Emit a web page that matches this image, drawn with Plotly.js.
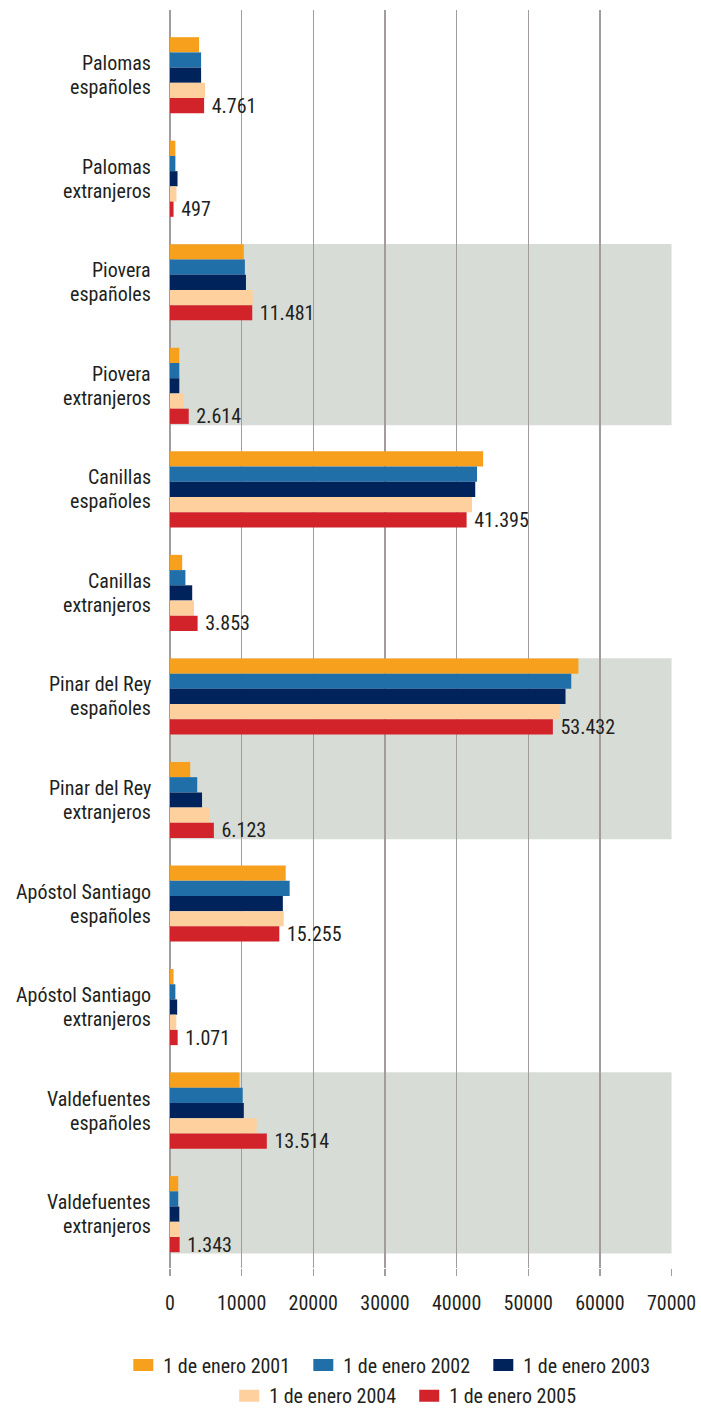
<!DOCTYPE html>
<html>
<head>
<meta charset="utf-8">
<script src="https://cdn.plot.ly/plotly-3.0.1.min.js"></script>
<style>html,body{margin:0;padding:0;background:#fff;}#chart{width:701px;height:1408px;}</style>
</head>
<body>
<div id="chart"></div>
<script>
const categories = [
  "Palomas<br>españoles", "Palomas<br>extranjeros",
  "Piovera<br>españoles", "Piovera<br>extranjeros",
  "Canillas<br>españoles", "Canillas<br>extranjeros",
  "Pinar del Rey<br>españoles", "Pinar del Rey<br>extranjeros",
  "Apóstol Santiago<br>españoles", "Apóstol Santiago<br>extranjeros",
  "Valdefuentes<br>españoles", "Valdefuentes<br>extranjeros"
];
const seriesNames = ["1 de enero 2001", "1 de enero 2002", "1 de enero 2003", "1 de enero 2004", "1 de enero 2005"];
const values2001 = [4060, 750, 10300, 1300, 43700, 1700, 57000, 2820, 16150, 500, 9700, 1150];
const values2002 = [4340, 750, 10450, 1300, 42850, 2150, 56000, 3800, 16700, 750, 10150, 1150];
const values2003 = [4340, 1050, 10600, 1300, 42600, 3100, 55200, 4470, 15750, 1000, 10300, 1300];
const values2004 = [4900, 900, 11550, 1900, 42150, 3350, 54400, 5510, 15870, 880, 12100, 1320];
const values2005 = [4761, 497, 11481, 2614, 41395, 3853, 53432, 6123, 15255, 1071, 13514, 1343];
const colors = ["#f7a01e", "#206fa8", "#00235b", "#fdd09e", "#d2232a"];
const xTicks = [0, 10000, 20000, 30000, 40000, 50000, 60000, 70000];
const shadedPairs = [[2, 3], [6, 7], [10, 11]];

const FONT = "'Roboto Condensed', 'Liberation Sans Narrow', sans-serif";
const TXT = "#231f20";
const GRID = "#a39c9c";
const W = 450;

function fmt(v) { return String(v).replace(/\B(?=(\d{3})+(?!\d))/g, "."); }

const allValues = [values2001, values2002, values2003, values2004, values2005];
const traces = allValues.map((vals, i) => {
  const t = {
    type: "bar", orientation: "h",
    name: seriesNames[i], x: vals, y: categories,
    marker: {color: colors[i]},
    legend: i < 3 ? "legend" : "legend2",
    hoverinfo: "x+name"
  };
  if (i === 4) {
    t.text = vals.map(v => "\u00A0" + fmt(v));
    t.textposition = "outside";
    t.cliponaxis = false;
    t.constraintext = "none";
    t.textfont = {family: FONT, size: 20, color: TXT, weight: W};
  }
  return t;
});

const shapes = shadedPairs.map(p => ({
  type: "rect", layer: "below", xref: "x", yref: "y",
  x0: 0, x1: 70000, y0: p[0] - 0.37, y1: p[1] + 0.38,
  fillcolor: "#d8dcd6", line: {width: 0}
}));

// category labels: two lines each, placed at the category position
const annotations = [];
categories.forEach(c => {
  const lines = c.split("<br>");
  lines.forEach((ln, k) => {
    annotations.push({
      xref: "paper", yref: "y", x: 0, y: c, xanchor: "right", yanchor: "middle",
      xshift: -17, yshift: k === 0 ? 12 : -12,
      text: ln, showarrow: false,
      font: {family: FONT, size: 20, color: TXT, weight: W}
    });
  });
});

const layout = {
  width: 701, height: 1408,
  margin: {l: 170, r: 29, t: 10, b: 140, autoexpand: false},
  paper_bgcolor: "#fff", plot_bgcolor: "#fff",
  barmode: "group", bargap: 0.265, bargroupgap: 0,
  font: {family: FONT, size: 20, color: TXT},
  showlegend: true,
  xaxis: {
    range: [0, 70060], tickvals: xTicks, ticktext: xTicks.map(String),
    showgrid: true, gridcolor: GRID, gridwidth: 1.4,
    zeroline: true, zerolinecolor: GRID, zerolinewidth: 1.4,
    ticks: "outside", ticklen: 7, tickcolor: GRID, tickwidth: 1.4,
    ticklabelstandoff: 10,
    tickfont: {family: FONT, size: 20, color: TXT, weight: W},
    showline: false, fixedrange: true
  },
  yaxis: {
    type: "category", range: [11.52, -0.63],
    showgrid: false, zeroline: false, showline: false, ticks: "",
    showticklabels: false,
    fixedrange: true
  },
  legend: {
    orientation: "h", x: -0.093, xanchor: "left", y: -0.0771, yanchor: "middle",
    entrywidth: 135, entrywidthmode: "pixels",
    font: {family: FONT, size: 20, color: TXT, weight: W}, traceorder: "normal"
  },
  legend2: {
    orientation: "h", x: 0.118, xanchor: "left", y: -0.1015, yanchor: "middle",
    entrywidth: 135, entrywidthmode: "pixels",
    font: {family: FONT, size: 20, color: TXT, weight: W}, traceorder: "normal"
  },
  shapes: shapes,
  annotations: annotations
};

Plotly.newPlot("chart", traces, layout, {displayModeBar: false, staticPlot: true}).then(gd => {
  // widen legend swatches to match the reference's rectangular keys
  gd.querySelectorAll(".legendpoints path").forEach(p => p.setAttribute("d", "M10,6H-10V-6H10Z"));
});
</script>
</body>
</html>
